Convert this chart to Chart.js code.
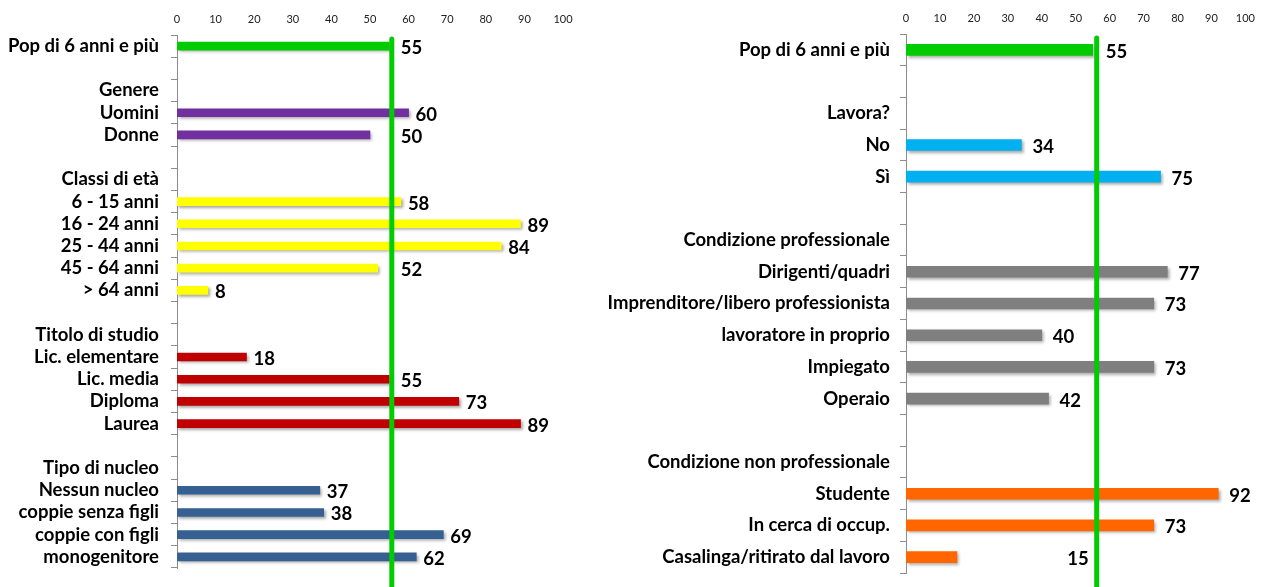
<!DOCTYPE html>
<html>
<head>
<meta charset="utf-8">
<script src="https://cdn.jsdelivr.net/npm/chart.js@4"></script>
<style>
  html, body { margin: 0; padding: 0; background: #fff; }
  body { width: 1264px; height: 587px; position: relative; overflow: hidden; }
  .box { position: absolute; top: 0; height: 587px; }
  #leftBox { left: 0; width: 640px; }
  #rightBox { left: 560px; width: 704px; }
</style>
</head>
<body>
<div id="leftBox" class="box"><canvas id="left"></canvas></div>
<div id="rightBox" class="box"><canvas id="right"></canvas></div>
<script>
// ---------- DATA ----------
const xTicks = [0, 10, 20, 30, 40, 50, 60, 70, 80, 90, 100];
const referenceValue = 55;

const leftCategories = [
  'Pop di 6 anni e più', '',
  'Genere', 'Uomini', 'Donne', '',
  'Classi di età', '6 - 15 anni', '16 - 24 anni', '25 - 44 anni', '45 - 64 anni', '> 64 anni', '',
  'Titolo di studio', 'Lic. elementare', 'Lic. media', 'Diploma', 'Laurea', '',
  'Tipo di nucleo', 'Nessun nucleo', 'coppie senza figli', 'coppie con figli', 'monogenitore'
];
const leftValues = [
  55, null,
  null, 60, 50, null,
  null, 58, 89, 84, 52, 8, null,
  null, 18, 55, 73, 89, null,
  null, 37, 38, 69, 62
];

const rightCategories = [
  'Pop di 6 anni e più', '',
  'Lavora?', 'No', 'Sì', '',
  'Condizione professionale', 'Dirigenti/quadri', 'Imprenditore/libero professionista',
  'lavoratore in proprio', 'Impiegato', 'Operaio', '',
  'Condizione non professionale', 'Studente', 'In cerca di occup.', 'Casalinga/ritirato dal lavoro'
];
const rightValues = [
  55, null,
  null, 34, 75, null,
  null, 77, 73, 40, 73, 42, null,
  null, 92, 73, 15
];

// ---------- STYLE ----------
const groupColors = {
  'Pop di 6 anni e più': '#00CC00',
  'Genere': '#7030A0',
  'Classi di età': '#FFFF00',
  'Titolo di studio': '#C00000',
  'Tipo di nucleo': '#376092',
  'Lavora?': '#00B0F0',
  'Condizione professionale': '#7F7F7F',
  'Condizione non professionale': '#FF6600'
};
const labelBeforeLine = ['Casalinga/ritirato dal lavoro'];
const FONT = 'Lato, "Open Sans", "DejaVu Sans", sans-serif';

function colorFor(cats, vals, i) {
  for (let k = i; k >= 0; k--) {
    if (groupColors[cats[k]] && (vals[k] === null || k === 0)) return groupColors[cats[k]];
  }
  return '#888';
}

function makeChart(id, cats, vals, cfg) {
  const colors = cats.map((c, i) => colorFor(cats, vals, i));
  const plugin = {
    id: 'decor_' + id,
    beforeDatasetsDraw(chart) {
      const ctx = chart.ctx;
      ctx.save();
      ctx.shadowColor = 'rgba(0,0,0,0.35)';
      ctx.shadowOffsetX = 2;
      ctx.shadowOffsetY = 2;
      ctx.shadowBlur = 3;
    },
    afterDatasetsDraw(chart) {
      const ctx = chart.ctx;
      ctx.restore();
      const xs = chart.scales.x;
      const lineX = xs.getPixelForValue(referenceValue) + cfg.lineShift;
      // reference line
      ctx.save();
      ctx.strokeStyle = '#00CC00';
      ctx.lineWidth = 5;
      ctx.lineCap = 'round';
      ctx.beginPath();
      ctx.moveTo(lineX, chart.chartArea.top + 4);
      ctx.lineTo(lineX, chart.height + 5);
      ctx.stroke();
      ctx.restore();
      // value labels
      const meta = chart.getDatasetMeta(0);
      ctx.save();
      ctx.font = 'bold 18.5px ' + FONT;
      ctx.fillStyle = '#000';
      ctx.textBaseline = 'middle';
      meta.data.forEach((bar, i) => {
        const v = vals[i];
        if (v === null || v === undefined) return;
        const end = bar.x;
        let x = end + cfg.gap;
        ctx.textAlign = 'left';
        if (labelBeforeLine.includes(cats[i])) {
          x = lineX - 8;
          ctx.textAlign = 'right';
        } else if (x < lineX + 8 && end > lineX - 45) {
          x = lineX + 9;
        }
        ctx.fillText(String(v), x, bar.y + 2);
      });
      ctx.restore();
    }
  };

  return new Chart(document.getElementById(id), {
    type: 'bar',
    data: {
      labels: cats,
      datasets: [{
        data: vals,
        backgroundColor: colors,
        borderWidth: 0,
        barThickness: cfg.barThickness
      }]
    },
    options: {
      indexAxis: 'y',
      responsive: true,
      maintainAspectRatio: false,
      animation: false,
      layout: { padding: { left: 0, right: cfg.padRight, top: 0, bottom: cfg.padBottom } },
      plugins: { legend: { display: false }, tooltip: { enabled: false }, title: { display: false } },
      scales: {
        x: {
          position: 'top',
          min: 0, max: 100,
          afterBuildTicks(scale) { scale.ticks = xTicks.map(v => ({ value: v })); },
          afterFit(scale) { scale.height = cfg.top; },
          grid: { display: false, drawTicks: false },
          border: { display: false },
          ticks: { font: { family: FONT, size: 11 }, color: '#222', padding: 9, maxRotation: 0 }
        },
        y: {
          afterFit(scale) {
            scale.width = cfg.axisLeft;
            scale.paddingTop = 0;
            scale.paddingBottom = 0;
          },
          grid: { drawOnChartArea: false, drawTicks: true, tickLength: 6, color: '#8C8C8C', offset: true },
          border: { display: true, color: '#8C8C8C', width: 1 },
          ticks: { font: { family: FONT, size: 18.5, weight: 'bold' }, color: '#000', padding: cfg.labelPad, autoSkip: false }
        }
      }
    },
    plugins: [plugin]
  });
}

makeChart('left', leftCategories, leftValues,
  { axisLeft: 177, padRight: 77, padBottom: 19, top: 35, barThickness: 8, gap: 7, lineShift: 2.5, labelPad: 12 });
makeChart('right', rightCategories, rightValues,
  { axisLeft: 346, padRight: 15, padBottom: 14, top: 34, barThickness: 11, gap: 11, lineShift: 4, labelPad: 10 });
</script>
</body>
</html>
